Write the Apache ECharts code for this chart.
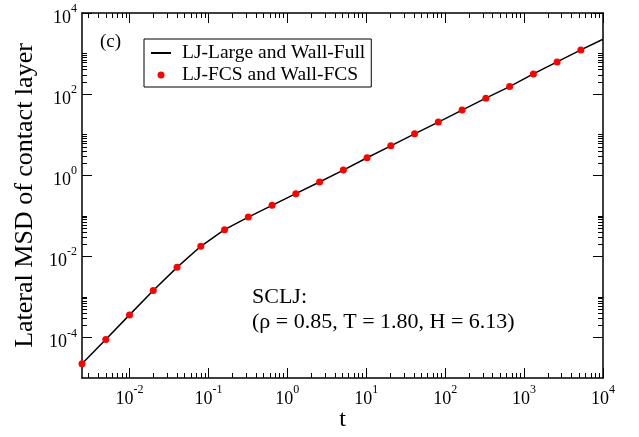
<!DOCTYPE html>
<html>
<head>
<meta charset="utf-8">
<script src="https://cdn.jsdelivr.net/npm/echarts@6/dist/echarts.min.js"></script>
<style>
  html, body { margin: 0; padding: 0; background: #fff; }
  #chart { width: 639px; height: 437px; }
</style>
</head>
<body>
<div id="chart"></div>
<script>
// time points (red dots) and MSD values
var dotT = [0.0025, 0.005, 0.01, 0.02, 0.04, 0.08, 0.16, 0.32, 0.64, 1.28, 2.56, 5.12,
  10.24, 20.48, 40.96, 81.92, 163.84, 327.68, 655.36, 1310.72, 2621.44, 5242.88];
var dotMSD = [2.25e-5, 8.9e-5, 3.6e-4, 1.44e-3, 5.35e-3, 1.77e-2, 4.55e-2, 9.3e-2, 0.181, 0.351, 0.68, 1.34,
  2.7, 5.3, 10.5, 20.4, 40.3, 79.4, 153, 315, 622, 1228];
// black curve
var lineT = [0.0025, 0.005, 0.01, 0.02, 0.04, 0.08, 0.16, 0.32, 0.64, 1.28, 2.56, 5.12,
  10.24, 20.48, 40.96, 81.92, 163.84, 327.68, 655.36, 1310.72, 2621.44, 5242.88, 10000];
var lineMSD = [2.25e-5, 8.9e-5, 3.6e-4, 1.44e-3, 5.35e-3, 1.77e-2, 4.55e-2, 9.3e-2, 0.181, 0.351, 0.68, 1.34,
  2.7, 5.3, 10.5, 20.4, 40.3, 79.4, 153, 315, 622, 1228, 2254];

// axis ranges and tick labels (decade exponents)
var xMin = 0.0025, xMax = 10000;
var yMin = 1e-5, yMax = 1e4;
var xMajorExp = [-2, -1, 0, 1, 2, 3, 4];
var yMajorExp = [-4, -2, 0, 2, 4];
var xMinorDecades = [-3, -2, -1, 0, 1, 2, 3];
var yMinorDecades = [-4, -2, 0, 2];
var minorMult = [2, 3, 4, 5, 6, 7, 8, 9];

var seriesNames = ['LJ-Large and Wall-Full', 'LJ-FCS and Wall-FCS'];

var font = 'Liberation Serif';
var lo = function (v) { return Math.log10(v); };

var xMinorTicks = [];
xMinorDecades.forEach(function (d) {
  minorMult.forEach(function (k) { xMinorTicks.push(lo(k) + d); });
});
var yMinorTicks = [];
yMinorDecades.forEach(function (d) {
  minorMult.concat([10]).forEach(function (k) { yMinorTicks.push(lo(k) + d); });
});

var gridBox = { left: 82, top: 13, width: 521, height: 365, containLabel: false, outerBoundsMode: 'none' };

var supRich = {
  b: { fontFamily: font, fontSize: 18, color: '#000', lineHeight: 24, verticalAlign: 'bottom' },
  s: { fontFamily: font, fontSize: 12, color: '#000', lineHeight: 12, verticalAlign: 'top' }
};
var supFmt = function (v) { return '{b|10}{s|' + Math.round(v) + '}'; };

var lineStyle = { color: '#000', width: 1.5 };

// overlay value axis in exponent space, used only for ticks / labels
function tickAxis(grid, pos, min, max, ticks, len, labels) {
  return {
    type: 'value', gridIndex: grid, position: pos, min: min, max: max,
    axisLine: { show: grid === 1, onZero: false, lineStyle: lineStyle },
    axisTick: { show: true, inside: true, length: len, customValues: ticks, lineStyle: { color: '#000', width: 1 } },
    axisLabel: labels ? {
      show: true, customValues: ticks, formatter: supFmt, rich: supRich,
      margin: labels.margin, padding: labels.padding
    } : { show: false },
    splitLine: { show: false }
  };
}

var option = {
  backgroundColor: '#fff',
  animation: false,
  grid: [
    Object.assign({}, gridBox),
    Object.assign({}, gridBox),
    Object.assign({}, gridBox)
  ],
  legend: {
    orient: 'vertical',
    left: 144,
    top: 39,
    padding: [4, 6, 2, 6],
    itemGap: 2,
    itemWidth: 20,
    itemHeight: 7,
    borderColor: '#000',
    borderWidth: 1,
    borderRadius: 0,
    data: [
      { name: seriesNames[0], itemStyle: { color: 'rgba(0,0,0,0)', borderWidth: 0 } },
      { name: seriesNames[1], icon: 'circle' }
    ],
    textStyle: { fontFamily: font, fontSize: 19.5, color: '#000', lineHeight: 20, padding: [0, 0, 0, 6] }
  },
  xAxis: [
    {
      type: 'log', gridIndex: 0, logBase: 10, min: xMin, max: xMax,
      name: 't', nameLocation: 'middle', nameGap: 30,
      nameTextStyle: { fontFamily: font, fontSize: 24, color: '#000' },
      axisLine: { show: false, onZero: false }, axisTick: { show: false }, axisLabel: { show: false },
      splitLine: { show: false }, minorTick: { show: false }
    },
    tickAxis(1, 'bottom', lo(xMin), lo(xMax), xMajorExp, 10, { margin: 6 }),
    tickAxis(1, 'top', lo(xMin), lo(xMax), xMajorExp, 10),
    tickAxis(2, 'bottom', lo(xMin), lo(xMax), xMinorTicks, 5),
    tickAxis(2, 'top', lo(xMin), lo(xMax), xMinorTicks, 5)
  ],
  yAxis: [
    {
      type: 'log', gridIndex: 0, logBase: 10, min: yMin, max: yMax,
      name: 'Lateral MSD of contact layer', nameLocation: 'middle', nameGap: 44,
      nameTextStyle: { fontFamily: font, fontSize: 26, color: '#000' },
      axisLine: { show: false, onZero: false }, axisTick: { show: false }, axisLabel: { show: false },
      splitLine: { show: false }, minorTick: { show: false }
    },
    tickAxis(1, 'left', lo(yMin), lo(yMax), yMajorExp, 10, { margin: 5, padding: [4, 0, 0, 0] }),
    tickAxis(1, 'right', lo(yMin), lo(yMax), yMajorExp, 10),
    tickAxis(2, 'left', lo(yMin), lo(yMax), yMinorTicks, 5),
    tickAxis(2, 'right', lo(yMin), lo(yMax), yMinorTicks, 5)
  ],
  graphic: [
    { type: 'text', left: 100, top: 33, style: { text: '(c)', fontFamily: font, fontSize: 19, fill: '#000' } },
    {
      type: 'text', left: 252, top: 285,
      style: {
        text: 'SCLJ:\n(ρ = 0.85, T = 1.80, H = 6.13)',
        fontFamily: font, fontSize: 22, lineHeight: 25, fill: '#000'
      }
    }
  ],
  series: [
    {
      name: seriesNames[0],
      type: 'line',
      xAxisIndex: 0, yAxisIndex: 0,
      symbol: 'none',
      lineStyle: { color: '#000', width: 1.5 },
      itemStyle: { color: '#000' },
      data: lineT.map(function (t, i) { return [t, lineMSD[i]]; }),
      z: 2
    },
    {
      name: seriesNames[1],
      type: 'scatter',
      xAxisIndex: 0, yAxisIndex: 0,
      symbol: 'circle',
      symbolSize: 7,
      itemStyle: { color: '#ff0000', opacity: 1 },
      data: dotT.map(function (t, i) { return [t, dotMSD[i]]; }),
      z: 3
    }
  ]
};

var chart = echarts.init(document.getElementById('chart'), null, { renderer: 'canvas' });
chart.setOption(option);
</script>
</body>
</html>
